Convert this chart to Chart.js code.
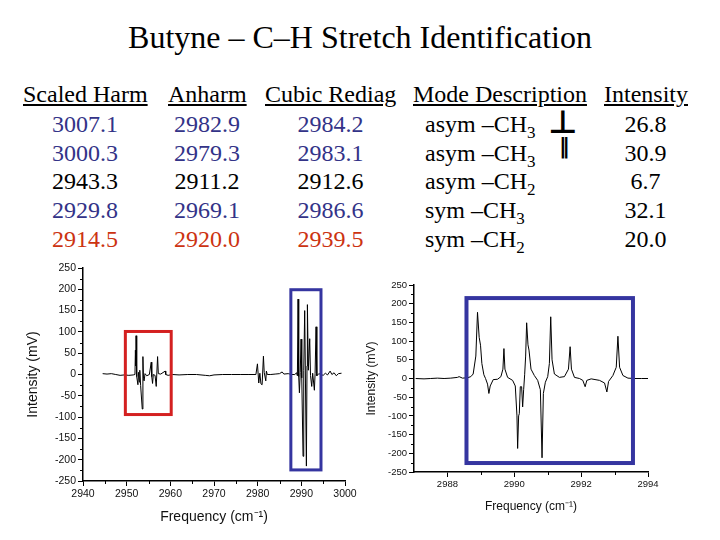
<!DOCTYPE html>
<html>
<head>
<meta charset="utf-8">
<script src="https://cdn.jsdelivr.net/npm/chart.js@4.4.0/dist/chart.umd.min.js"></script>
<style>
body { margin: 0; background: #fff; }
#slide { position: relative; width: 720px; height: 540px; overflow: hidden; font-family: "Liberation Serif", "Times New Roman", serif; color: #000; }
.title { position: absolute; left: 0; width: 720px; top: 21px; text-align: center; font-size: 32px; line-height: 32px; white-space: nowrap; }
.cell { position: absolute; font-family: "Liberation Serif", "Times New Roman", serif; font-size: 24px; line-height: 24px; white-space: nowrap; }
.hdr { text-decoration: underline; text-underline-offset: 2px; }
.mid { width: 140px; text-align: center; }
.blue { color: #333388; }
.red { color: #cc3311; }
sub { font-size: 17px; line-height: 0; vertical-align: -6px; }
.sym { position: absolute; font-family: "DejaVu Sans", sans-serif; font-weight: bold; white-space: nowrap; }
#surveyWrap { position: absolute; left: 15px; top: 255px; width: 350px; height: 275px; }
#zoomWrap { position: absolute; left: 360px; top: 270px; width: 330px; height: 250px; }
</style>
</head>
<body>
<div id="slide">
  <div class="title">Butyne – C–H Stretch Identification</div>
  <div id="table"></div>
  <div class="sym" style="left:548px; top:106px; font-size:32px; line-height:32px;">⊥</div>
  <div class="sym" style="left:559px; top:136px; font-size:21px; line-height:21px;">‖</div>
  <div id="surveyWrap"><canvas id="surveyChart"></canvas></div>
  <div id="zoomWrap"><canvas id="zoomChart"></canvas></div>
</div>
<script>
// Table data
const headers = ['Scaled Harm', 'Anharm', 'Cubic Rediag', 'Mode Description', 'Intensity'];
const scaledHarm = ['3007.1', '3000.3', '2943.3', '2929.8', '2914.5'];
const anharm = ['2982.9', '2979.3', '2911.2', '2969.1', '2920.0'];
const cubicRediag = ['2984.2', '2983.1', '2912.6', '2986.6', '2939.5'];
const modeKind = ['asym', 'asym', 'asym', 'sym', 'sym'];
const modeGroupSub = ['3', '3', '2', '3', '2'];
const intensity = ['26.8', '30.9', '6.7', '32.1', '20.0'];
const rowColors = ['blue', 'blue', '', 'blue', 'red'];

// Survey spectrum (2940-3000 cm-1)
const surveyFreq = [
  2944.5, 2945.5, 2946.5, 2947.5, 2948.5, 2949.5, 2950.5, 2951.5, 2951.9, 2952.0,
  2952.1, 2952.15, 2952.3, 2952.58, 2952.7, 2952.9, 2953.0, 2953.2, 2953.57, 2953.72,
  2953.85, 2954.0, 2954.2, 2954.6, 2955.2, 2955.63, 2955.75, 2955.93, 2956.1, 2956.5,
  2956.77, 2957.08, 2957.25, 2957.8, 2958.83, 2958.95, 2959.5, 2960.5, 2962, 2964,
  2966, 2968, 2969, 2970, 2972, 2974, 2976, 2978, 2979.6, 2979.95,
  2980.25, 2980.5, 2980.75, 2981.02, 2981.32, 2981.5, 2981.86, 2982.0, 2982.2, 2983,
  2984, 2985, 2985.6, 2986, 2987, 2987.8, 2988.5, 2988.9, 2989.1, 2989.25,
  2989.4, 2989.56, 2989.75, 2989.94, 2990.1, 2990.39, 2990.55, 2990.77, 2990.95, 2991.16,
  2991.3, 2991.39, 2991.6, 2991.92, 2992.1, 2992.38, 2992.6, 2992.99, 2993.15, 2993.37,
  2993.55, 2994, 2995, 2995.5, 2996, 2996.6, 2997, 2997.5, 2998, 2998.5, 2999.2
];
const surveyMv = [
  2, 1, 2, 0, -2, -1, -2, -1, 0, 57,
  20, 91, -5, -24, 5, -18, 10, -26, -81, 42,
  -10, -15, 2, -3, 0, 29, -5, -21, 0, -2,
  -28, 42, 2, 1, 8, 0, -2, 0, -1, 0,
  0, -2, -3, -1, 0, 0, 0, 0, 0, 25,
  -20, 3, -22, -24, 43, 5, -15, 8, 0, 0,
  1, 2, 6, 1, 2, 0, 0, 4, -3, 177,
  -5, -43, 5, 83, -8, -192, 10, 150, -20, -215,
  20, 164, 10, 84, -2, -28, 3, -37, 2, 112,
  -3, 2, -2, 3, -1, 8, 0, 4, -3, 2, 3
];

// Zoomed spectrum (2987-2994 cm-1)
const zoomFreq = [
  2987.05, 2987.3, 2987.5, 2987.7, 2987.9, 2988.1, 2988.3, 2988.35, 2988.45, 2988.6,
  2988.7, 2988.77, 2988.85, 2988.9, 2988.95, 2988.99, 2989.03, 2989.09, 2989.14, 2989.2,
  2989.24, 2989.28, 2989.37, 2989.5, 2989.6, 2989.66, 2989.69, 2989.72, 2989.8, 2989.95,
  2990.03, 2990.08, 2990.1, 2990.13, 2990.15, 2990.18, 2990.22, 2990.25, 2990.28, 2990.31,
  2990.34, 2990.37, 2990.41, 2990.44, 2990.5, 2990.6, 2990.7, 2990.78, 2990.83, 2990.87,
  2990.93, 2991.0, 2991.05, 2991.09, 2991.13, 2991.2, 2991.35, 2991.5, 2991.62, 2991.67,
  2991.71, 2991.8, 2991.95, 2992.05, 2992.12, 2992.17, 2992.3, 2992.55, 2992.7, 2992.77,
  2992.82, 2992.95, 2993.05, 2993.1, 2993.15, 2993.25, 2993.4, 2993.6, 2993.8, 2994.0
];
const zoomMv = [
  0, -1, 0, 1, 0, 1, 3, 5, 1, 2,
  5, 12, 60, 177, 110, 89, 40, 10, 0, -15,
  -40, -20, -3, -2, 5, 25, 80, 25, 3, -5,
  -20, -100, -187, -100, -94, -22, -22, -76, -30, 10,
  60, 149, 90, 76, 25, 8, -5, -30, -212, -40,
  -10, 5, 40, 165, 50, 12, 3, 5, 25, 85,
  25, 3, 0, -5, -22, -5, -1, -5, -12, -36,
  -8, 8, 30, 113, 30, 8, 1, 0, 0, 0
];

// Axis ticks
const mvTicks = [-250, -200, -150, -100, -50, 0, 50, 100, 150, 200, 250];
const mvMinor = [-225, -175, -125, -75, -25, 25, 75, 125, 175, 225];
const surveyTicks = [2940, 2950, 2960, 2970, 2980, 2990, 3000];
const surveyMinor = [2945, 2955, 2965, 2975, 2985, 2995];
const zoomTicks = [2988, 2990, 2992, 2994];
const zoomMinor = [2989, 2991, 2993];

// Highlight boxes (data coordinates)
const redBox = { x0: 2949.7, x1: 2960.2, y0: -94, y1: 101 };
const blueBoxSurvey = { x0: 2987.6, x1: 2994.5, y0: -224, y1: 199 };
const blueBoxZoom = { x0: 2988.57, x1: 2993.55, y0: -226, y1: 215 };

// build table
const table = document.getElementById('table');
const colCenters = [85, 207, 330.5, null, 645.5];
const headerLeft = [23, 168, 265, 413, 604];
headers.forEach((h, i) => {
    const d = document.createElement('div');
    d.className = 'cell hdr';
    d.style.left = headerLeft[i] + 'px';
    d.style.top = '82px';
    d.textContent = h;
    table.appendChild(d);
});
function addCell(text, center, row, color) {
    const d = document.createElement('div');
    d.className = 'cell mid ' + color;
    d.style.left = (center - 70) + 'px';
    d.style.top = (112 + row * 28.7) + 'px';
    d.textContent = text;
    table.appendChild(d);
}
for (let r = 0; r < 5; r++) {
    addCell(scaledHarm[r], colCenters[0], r, rowColors[r]);
    addCell(anharm[r], colCenters[1], r, rowColors[r]);
    addCell(cubicRediag[r], colCenters[2], r, rowColors[r]);
    addCell(intensity[r], colCenters[4], r, '');
    const m = document.createElement('div');
    m.className = 'cell';
    m.style.left = '425px';
    m.style.top = (112 + r * 28.7) + 'px';
    m.innerHTML = modeKind[r] + ' –CH<sub>' + modeGroupSub[r] + '</sub>';
    table.appendChild(m);
}

// draw rectangles in data coordinates
const boxPlugin = {
    id: 'boxes',
    afterDatasetsDraw(chart, args, opts) {
        const { ctx, scales: { x, y } } = chart;
        (opts.list || []).forEach(b => {
            const l = x.getPixelForValue(b.x0), r = x.getPixelForValue(b.x1);
            const t = y.getPixelForValue(b.y1), btm = y.getPixelForValue(b.y0);
            ctx.save();
            ctx.strokeStyle = b.color;
            ctx.lineWidth = b.width;
            ctx.strokeRect(l, t, r - l, btm - t);
            ctx.restore();
        });
    }
};

// short minor tick marks
const minorPlugin = {
    id: 'minorTicks',
    afterDraw(chart, args, opts) {
        const { ctx, scales: { x, y }, chartArea } = chart;
        ctx.save();
        ctx.strokeStyle = '#000';
        ctx.lineWidth = 1;
        ctx.beginPath();
        (opts.x || []).forEach(v => {
            const px = Math.round(x.getPixelForValue(v)) + 0.5;
            ctx.moveTo(px, chartArea.bottom);
            ctx.lineTo(px, chartArea.bottom + 3);
        });
        (opts.y || []).forEach(v => {
            const py = Math.round(y.getPixelForValue(v)) + 0.5;
            ctx.moveTo(chartArea.left, py);
            ctx.lineTo(chartArea.left - 3, py);
        });
        ctx.stroke();
        ctx.restore();
    }
};

function makeSpectrum(id, freq, mv, cfg) {
    const ctx = document.getElementById(id).getContext('2d');
    return new Chart(ctx, {
        type: 'line',
        data: {
            datasets: [{
                data: freq.map((f, i) => ({ x: f, y: mv[i] })),
                borderColor: '#000',
                borderWidth: 1,
                pointRadius: 0,
                tension: 0
            }]
        },
        options: {
            responsive: true,
            maintainAspectRatio: false,
            animation: false,
            layout: { padding: cfg.padding },
            plugins: {
                legend: { display: false },
                tooltip: { enabled: false },
                boxes: { list: cfg.boxes },
                minorTicks: { x: cfg.xMinor, y: mvMinor }
            },
            scales: {
                x: {
                    type: 'linear',
                    min: cfg.xMin,
                    max: cfg.xMax,
                    afterBuildTicks: s => { s.ticks = cfg.xTicks.map(v => ({ value: v })); },
                    afterFit: s => { s.height = cfg.xHeight; },
                    grid: { drawOnChartArea: false, color: '#000', tickLength: 5 },
                    border: { color: '#000', width: 1.5 },
                    ticks: { color: '#111', font: { family: 'Liberation Sans', size: cfg.tickSize }, padding: 2, maxRotation: 0, callback: v => v },
                    title: { display: true, text: 'Frequency (cm⁻¹)', color: '#111', font: { family: 'Liberation Sans', size: cfg.titleSize } }
                },
                y: {
                    type: 'linear',
                    min: -250,
                    max: 250,
                    afterBuildTicks: s => { s.ticks = mvTicks.map(v => ({ value: v })); },
                    afterFit: s => { s.width = cfg.yWidth; },
                    grid: { drawOnChartArea: false, color: '#000', tickLength: 5 },
                    border: { color: '#000', width: 1.5 },
                    ticks: { color: '#111', font: { family: 'Liberation Sans', size: cfg.tickSize }, padding: 2 },
                    title: { display: true, text: 'Intensity (mV)', color: '#111', font: { family: 'Liberation Sans', size: cfg.titleSize } }
                }
            }
        },
        plugins: [boxPlugin, minorPlugin]
    });
}

makeSpectrum('surveyChart', surveyFreq, surveyMv, {
    padding: { left: 6, top: 13, right: 20, bottom: 0 },
    xMin: 2940, xMax: 3000, xTicks: surveyTicks, xMinor: surveyMinor,
    xHeight: 49, yWidth: 62, tickSize: 10.5, titleSize: 14,
    boxes: [
        Object.assign({ color: '#d42020', width: 3 }, redBox),
        Object.assign({ color: '#3535a0', width: 3 }, blueBoxSurvey)
    ]
});

makeSpectrum('zoomChart', zoomFreq, zoomMv, {
    padding: { left: 0, top: 15, right: 42, bottom: 2 },
    xMin: 2987, xMax: 2994, xTicks: zoomTicks, xMinor: zoomMinor,
    xHeight: 46, yWidth: 54, tickSize: 9.5, titleSize: 12,
    boxes: [
        Object.assign({ color: '#3535a0', width: 4 }, blueBoxZoom)
    ]
});
</script>
</body>
</html>
